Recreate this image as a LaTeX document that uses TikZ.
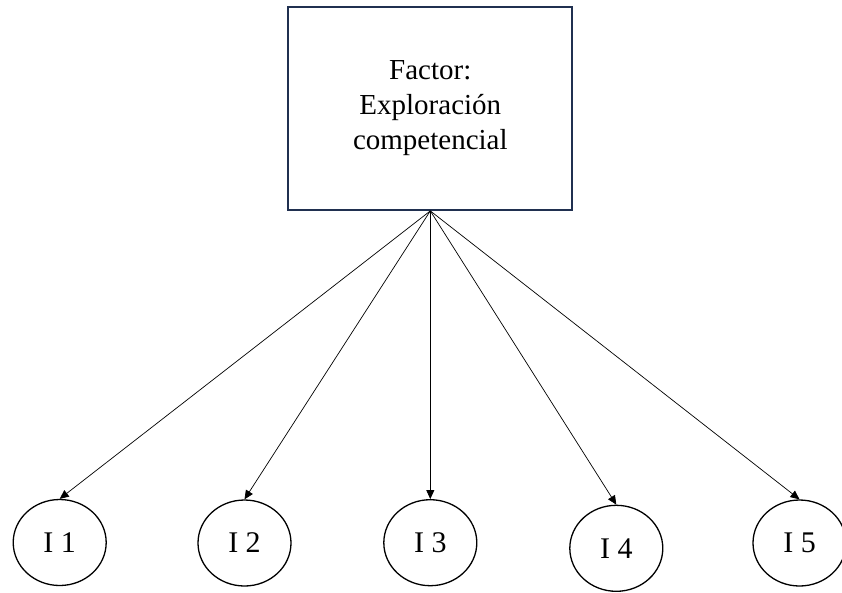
\documentclass[tikz,border=0pt]{standalone}
\usepackage{fontspec}
\setmainfont{Liberation Serif}
\usetikzlibrary{shapes.geometric,arrows.meta}
\definecolor{boxnavy}{RGB}{32,48,80}
\begin{document}
\begin{tikzpicture}[x=1pt,y=-1pt,
  factorbox/.style={draw=boxnavy,line width=2pt,rectangle,minimum width=284pt,
    minimum height=203pt,inner sep=0pt,align=center,
    font=\fontsize{29}{35}\selectfont},
  item/.style={draw=black,line width=1.3pt,ellipse,minimum width=93pt,
    minimum height=86pt,inner sep=0pt,font=\fontsize{30}{36}\selectfont},
  link/.style={line width=0.7pt,-{Triangle[length=9pt,width=8pt]}}]
\useasboundingbox (0,0) rectangle (842,592);
\node[factorbox] (f) at (430.3,108.4) {Factor:\\Exploración\\competencial};
\node[item] (i1) at (59.7,542.5) {I 1};
\node[item] (i2) at (244.5,543) {I 2};
\node[item] (i3) at (430.3,542.7) {I 3};
\node[item] (i4) at (616.3,548.3) {I 4};
\node[item] (i5) at (799.5,543) {I 5};
\foreach \n in {i1,i2,i3,i4,i5}
  \draw[link] (f.south) -- (\n.north);
\end{tikzpicture}
\end{document}
